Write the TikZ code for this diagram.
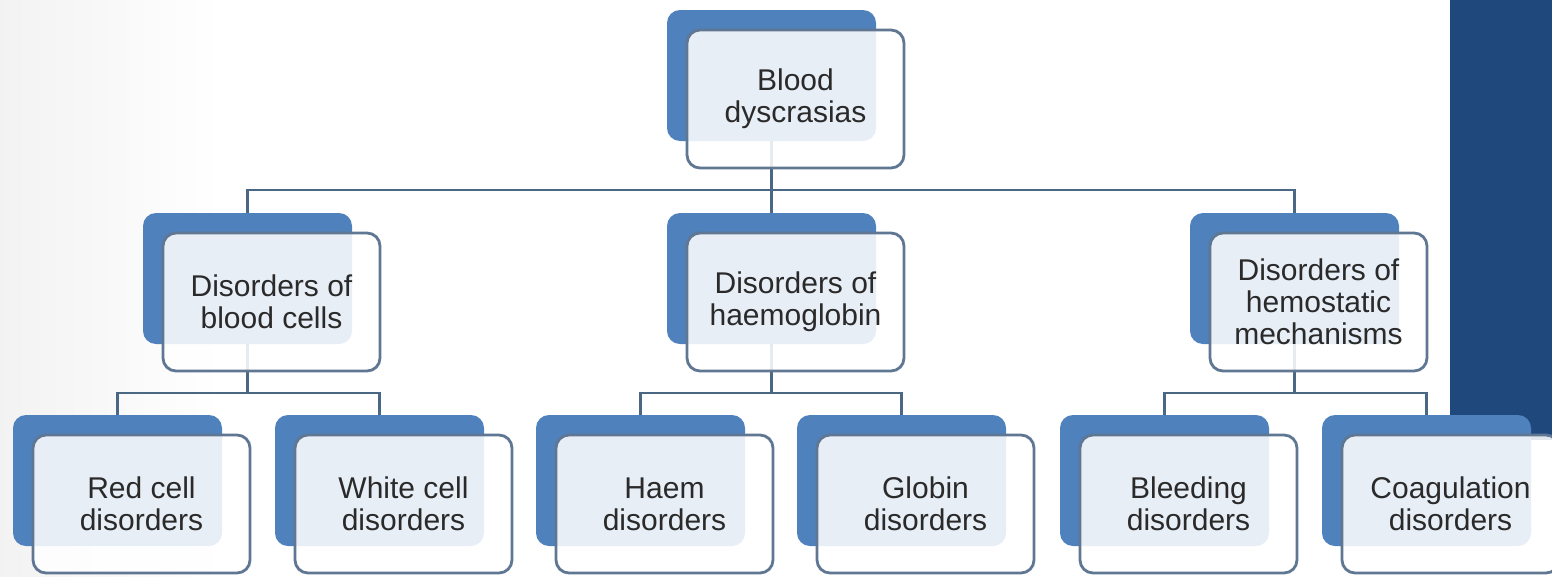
\documentclass[tikz,border=0pt]{standalone}
\usepackage{fontspec}
\setmainfont{Liberation Sans}
\pgfdeclarelayer{bg}
\pgfdeclarelayer{links}
\pgfsetlayers{bg,links,main}
\definecolor{backblue}{HTML}{4F81BD}
\definecolor{frameblue}{HTML}{5F7793}
\definecolor{connblue}{HTML}{4A6783}
\definecolor{panelblue}{HTML}{1F497D}
\definecolor{txtgray}{HTML}{2A2A2A}
\tikzset{
  backbox/.style={fill=backblue, rounded corners=13pt, minimum width=209pt, minimum height=131pt, inner sep=0pt, outer sep=0pt, anchor=north west},
  frontbox/.style={fill=white, fill opacity=0.87, text opacity=1, draw=frameblue, draw opacity=1, line width=2.8pt, rounded corners=13pt, minimum width=217pt, minimum height=138pt, inner sep=0pt, outer sep=0pt, anchor=north west, align=center, text=txtgray, font=\fontsize{30}{32}\selectfont},
  conn/.style={draw=connblue, line width=2.8pt}
}
\newcommand\OrgBox[4]{%
  \node[backbox] (#1b) at (#2,#3) {};
  \node[frontbox] (#1) at (#2+20,#3+20) {#4};
}
\begin{document}
\begin{tikzpicture}[x=1pt,y=-1pt]
\useasboundingbox (0,0) rectangle (1552,576);
\begin{pgfonlayer}{bg}
\fill[white] (0,0) rectangle (1552,576);
\shade[left color=black!5, right color=white] (0,0) rectangle (220,576);
\fill[panelblue] (1450,0) rectangle (1552,440);
\end{pgfonlayer}
% boxes
\OrgBox{top}{667}{10}{Blood\\dyscrasias}
\OrgBox{cells}{143}{213}{Disorders of\\blood cells}
\OrgBox{hb}{667}{213}{Disorders of\\haemoglobin}
\OrgBox{hemo}{1190}{213}{Disorders of\\hemostatic\\mechanisms}
\OrgBox{red}{13}{415}{Red cell\\disorders}
\OrgBox{white}{275}{415}{White cell\\disorders}
\OrgBox{haem}{536}{415}{Haem\\disorders}
\OrgBox{glob}{797}{415}{Globin\\disorders}
\OrgBox{bleed}{1060}{415}{Bleeding\\disorders}
\OrgBox{coag}{1322}{415}{Coagulation\\disorders}
% junctions
\coordinate (j0) at (topb.south |- 0,190);
\coordinate (j1) at (cellsb.south |- 0,393);
\coordinate (j2) at (hbb.south |- 0,393);
\coordinate (j3) at (hemob.south |- 0,393);
\begin{pgfonlayer}{links}
\draw[conn] (topb.south) -- (j0);
\draw[conn] (cellsb.north) |- (j0) -| (hemob.north);
\draw[conn] (j0) -- (hbb.north);
\draw[conn] (cellsb.south) -- (j1);
\draw[conn] (redb.north) |- (j1) -| (whiteb.north);
\draw[conn] (hbb.south) -- (j2);
\draw[conn] (haemb.north) |- (j2) -| (globb.north);
\draw[conn] (hemob.south) -- (j3);
\draw[conn] (bleedb.north) |- (j3) -| (coagb.north);
\end{pgfonlayer}
\end{tikzpicture}
\end{document}
